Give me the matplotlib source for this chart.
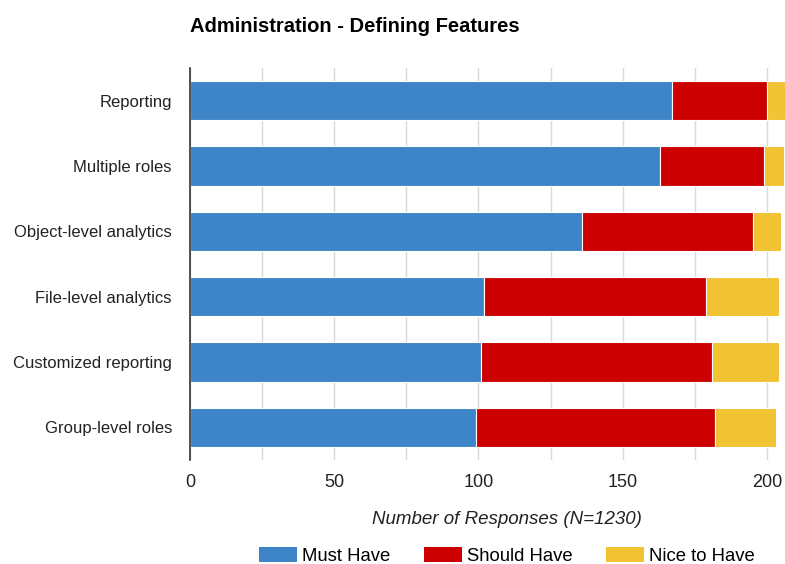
import matplotlib
matplotlib.use("Agg")
import matplotlib.pyplot as plt
import numpy as np
from matplotlib.patches import Patch

plt.rcParams['font.family'] = ['Liberation Sans', 'DejaVu Sans']

#-----
# Data
#-----
features = ["Reporting", "Multiple roles", "Object-level analytics",
            "File-level analytics", "Customized reporting", "Group-level roles"]
must_have = [167, 163, 136, 102, 101, 99]
should_have = [33, 36, 59, 77, 80, 83]
nice_to_have = [8, 7, 10, 25, 23, 21]
series_names = ["Must Have", "Should Have", "Nice to Have"]
colors = ["#3d85c6", "#cc0000", "#f1c232"]
xticks = [0, 50, 100, 150, 200]

#---------
# Plotting
#---------
fig = plt.figure(figsize=(7.85, 5.64), dpi=100)
ax = fig.add_axes([190/785, 1 - 460/564, 1 - 190/785, (460 - 68)/564])

y = np.arange(len(features))
left = np.zeros(len(features))
for vals, col in zip([must_have, should_have, nice_to_have], colors):
    ax.barh(y, vals, left=left, height=0.6, color=col,
            edgecolor="white", linewidth=0.8, zorder=3)
    left += np.array(vals)

ax.set_ylim(len(features) - 0.5, -0.5)
ax.set_xlim(0, (785 - 190) / 2.885)
ax.set_yticks(y)
ax.set_yticklabels(features, fontsize=12, color="#222222")
ax.set_xticks(xticks)
ax.set_xticklabels([str(t) for t in xticks], fontsize=13, color="#222222")
ax.set_xticks(np.arange(25, 206, 50), minor=True)
ax.tick_params(axis="both", which="both", length=0)
ax.tick_params(axis="x", pad=10)
ax.tick_params(axis="y", pad=13)
ax.grid(axis="x", which="both", color="#d9d9d9", linewidth=1, zorder=0)

for s in ["top", "right", "bottom"]:
    ax.spines[s].set_visible(False)
ax.spines["left"].set_color("#333333")
ax.spines["left"].set_linewidth(1.2)
ax.spines["left"].set_zorder(4)

# axis title sits a bit right of the axes centre in the original
fig.text(507/785, 1 - 520/564, "Number of Responses (N=1230)", fontsize=13.5,
         style="italic", color="#222222", ha="center", va="center")

fig.text(190/785, 1 - 27/564, "Administration - Defining Features",
         fontsize=14.5, fontweight="bold", va="center", ha="left")

handles = [Patch(facecolor=c, edgecolor="none") for c in colors]
fig.legend(handles, series_names, loc="center", ncol=3,
           bbox_to_anchor=(507/785, 1 - 556/564), frameon=False,
           fontsize=13.3, handlelength=2.05, handleheight=0.85,
           columnspacing=1.8, handletextpad=0.3, borderpad=0)

fig.savefig("out.png", dpi=100)
